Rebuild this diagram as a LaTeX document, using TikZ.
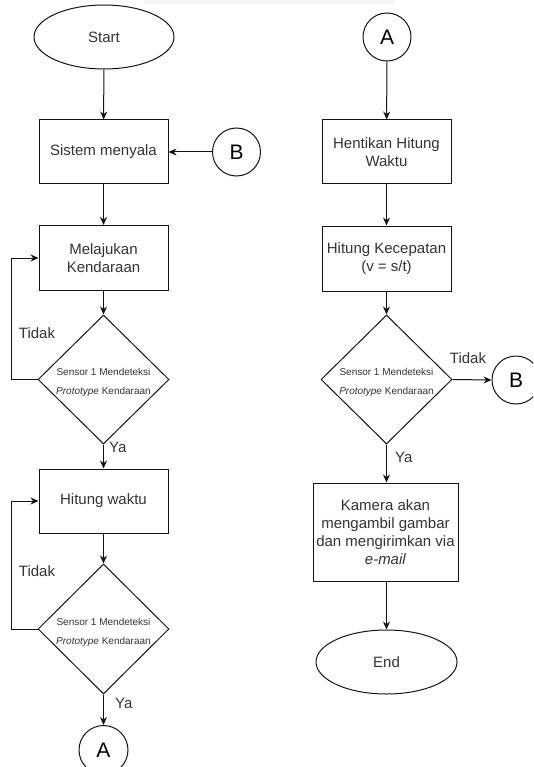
\documentclass[tikz,border=0pt]{standalone}
\usepackage{fontspec}
\setmainfont{Liberation Sans}
\usetikzlibrary{arrows.meta,shapes.geometric}
\definecolor{txt}{RGB}{51,51,51}
\definecolor{ln}{RGB}{20,20,20}
\definecolor{band}{RGB}{246,246,246}
\begin{document}
\begin{tikzpicture}[x=1pt,y=-1pt,
  every node/.style={text=txt,font=\fontsize{15}{18}\selectfont},
  proc/.style={draw=ln,line width=1pt,rectangle,minimum width=129,minimum height=64,inner sep=0,align=center},
  term/.style={draw=ln,line width=1pt,ellipse,minimum width=140,minimum height=64,inner sep=0},
  conn/.style={draw=ln,line width=1pt,circle,minimum size=48,inner sep=0,font=\fontsize{21}{24}\selectfont,text=black},
  dec/.style={draw=ln,line width=1pt,diamond,minimum width=131,minimum height=129,inner sep=0},
  dectext/.style={align=center,font=\fontsize{10}{19}\selectfont},
  lbl/.style={font=\fontsize{15}{18}\selectfont,inner sep=0},
  arr/.style={draw=ln,line width=1pt,-{Stealth[length=8pt,width=7pt]}}]
\useasboundingbox (0,0) rectangle (533,767);
\clip (0,0) rectangle (533,767);
\fill[band] (143,0) rectangle (395,4);

% left column
\node[term] (start) at (104,37) {Start};
\node[proc] (sys) at (103.5,152) {Sistem menyala};
\node[conn] (B1) at (236.5,152) {B};
\node[proc,minimum height=65] (mel) at (103.5,258) {Melajukan\\Kendaraan};
\node[dec] (d1) at (103.5,379.5) {};
\node[dectext] (d1t) at (103.5,382) {Sensor 1 Mendeteksi\\\textit{Prototype} Kendaraan};
\node[proc] (hw) at (103.5,501) {Hitung waktu};
\node[dec,minimum height=130] (d2) at (103.5,629) {};
\node[dectext] (d2t) at (103.5,632) {Sensor 1 Mendeteksi\\\textit{Prototype} Kendaraan};
\node[conn,minimum size=49] (A2) at (103.5,750) {A};

% right column
\node[conn] (A1) at (387,37) {A};
\node[proc] (hen) at (386.5,152) {Hentikan Hitung\\Waktu};
\node[proc,minimum height=65] (kec) at (386.5,258.5) {Hitung Kecepatan\\(v = s/t)};
\node[dec] (d3) at (386.5,379.5) {};
\node[dectext] (d3t) at (386.5,382) {Sensor 1 Mendeteksi\\\textit{Prototype} Kendaraan};
\node[conn] (B2) at (516,380) {B};
\node[proc,minimum width=145,minimum height=98] (kam) at (385.5,532) {Kamera akan\\mengambil gambar\\dan mengirimkan via\\\textit{e-mail}};
\node[term,minimum width=141] (end) at (386.5,662) {End};

% connectors left
\draw[arr] (start) -- (sys);
\draw[arr] (B1) -- (sys);
\draw[arr] (sys) -- (mel);
\draw[arr] (mel) -- (d1);
\draw[arr] (d1.west) -- ++(-26,0) |- (mel.west);
\node[lbl] (t1) at (37,333) {Tidak};
\draw[arr] (d1.south) -- (hw.north);
\node[lbl,anchor=west] (y1) at (109,447) {Ya};
\draw[arr] (hw) -- (d2);
\draw[arr] (d2.west) -- ++(-26,0) |- (hw.west);
\node[lbl] (t2) at (37,571) {Tidak};
\draw[arr] (d2.south) -- (A2.north);
\node[lbl,anchor=west] (y2) at (115,703) {Ya};

% connectors right
\draw[arr] (A1) -- (hen);
\draw[arr] (hen) -- (kec);
\draw[arr] (kec) -- (d3);
\draw[arr] (d3.east) -- (B2.west);
\node[lbl] (t3) at (468,358) {Tidak};
\draw[arr] (d3.south) -- (d3.south |- kam.north);
\node[lbl,anchor=west] (y3) at (395,457) {Ya};
\draw[arr] (kam.south -| end.north) -- (end.north);
\end{tikzpicture}
\end{document}
